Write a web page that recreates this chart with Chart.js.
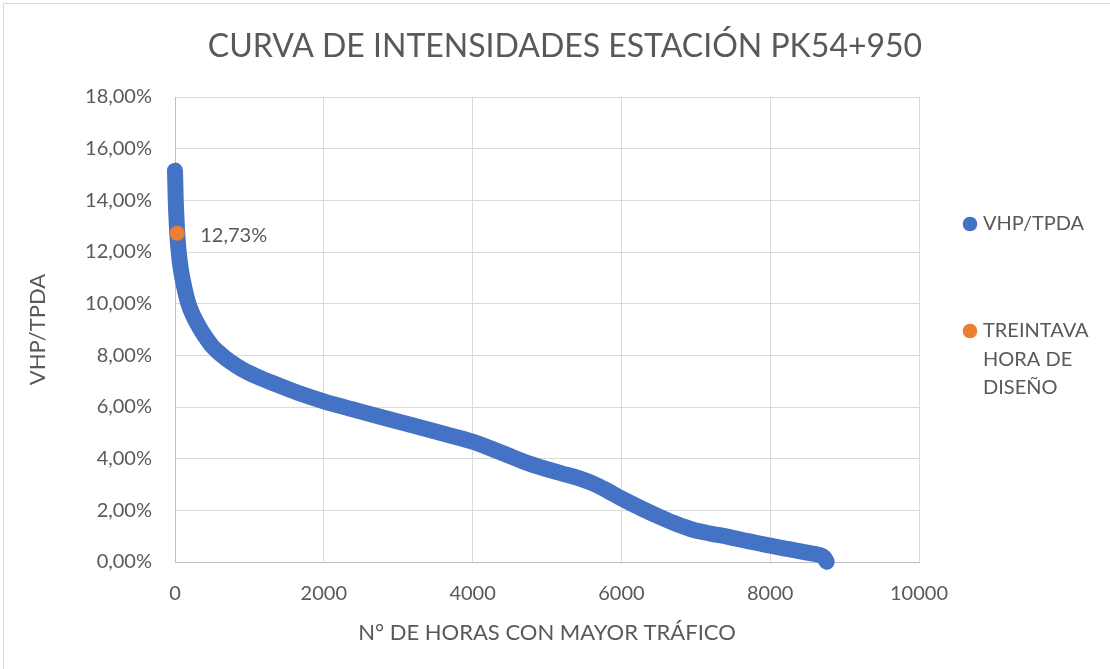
<html>
    <head>
        <meta http-equiv="content-type" content="text/html; charset=UTF-8">
        <script src="https://cdn.jsdelivr.net/npm/chart.js"></script>
        <title>Curva de intensidades PK54+950</title>
        <style>
            body { margin: 0; background: #fff; }
        </style>
    </head>
    <body>
        <div style="position: relative; width: 1110px; height: 669px">
            <canvas id="curva"></canvas>
        </div>

        <script>
            // datos (horas ordenadas, VHP/TPDA en %)
            const horas = [0, 5, 10, 20, 30, 50, 80, 120, 180, 250, 320, 400, 510, 620, 740, 900,
                           1100, 1411, 1680, 2000, 2400, 2755, 3100, 3427, 3700, 4000, 4400, 4772,
                           5175, 5444, 5618, 5800, 6000, 6250, 6519, 6750, 6962, 7200, 7419, 7700,
                           8000, 8250, 8495, 8650, 8720, 8760];
            const vhpTpda = [15.15, 14.6, 14.0, 13.3, 12.73, 12.0, 11.3, 10.7, 10.0, 9.5, 9.12, 8.75, 8.32, 8.03, 7.76, 7.46,
                             7.18, 6.82, 6.52, 6.22, 5.9, 5.62, 5.36, 5.11, 4.9, 4.66, 4.22, 3.8,
                             3.45, 3.23, 3.04, 2.78, 2.46, 2.1, 1.74, 1.46, 1.25, 1.1, 0.98, 0.81,
                             0.63, 0.5, 0.36, 0.28, 0.19, 0.01];
            const horaDiseno = [30];
            const valorDiseno = [12.73];
            const series = ['VHP/TPDA', 'TREINTAVA HORA DE DISEÑO'];
            const xTicks = [0, 2000, 4000, 6000, 8000, 10000];
            const yTicks = [0, 2, 4, 6, 8, 10, 12, 14, 16, 18];

            const titulo = 'CURVA DE INTENSIDADES ESTACIÓN PK54+950';
            const tituloX = 'N° DE HORAS CON MAYOR TRÁFICO';
            const tituloY = 'VHP/TPDA';

            const gris = '#595959';
            const azul = '#4472C4';
            const naranja = '#ED7D31';
            const fuente = 'Lato, Carlito, "Liberation Sans", sans-serif';

            const pct = (v) => v.toFixed(2).replace('.', ',') + '%';

            function wrap(ctx, text, maxW) {
                const words = text.split(' ');
                const lines = [];
                let cur = '';
                words.forEach((w) => {
                    const t = cur ? cur + ' ' + w : w;
                    if (cur && ctx.measureText(t).width > maxW) {
                        lines.push(cur);
                        cur = w;
                    } else {
                        cur = t;
                    }
                });
                lines.push(cur);
                return lines;
            }

            // titulo, leyenda, etiqueta y marco dibujados a mano
            const extras = {
                id: 'extras',
                afterDraw(chart) {
                    const ctx = chart.ctx;
                    ctx.save();

                    ctx.strokeStyle = '#D9D9D9';
                    ctx.lineWidth = 1;
                    ctx.beginPath();
                    ctx.moveTo(3.5, 669);
                    ctx.lineTo(3.5, 3.5);
                    ctx.lineTo(1110, 3.5);
                    ctx.stroke();

                    ctx.fillStyle = gris;
                    ctx.textAlign = 'center';
                    ctx.textBaseline = 'middle';
                    ctx.font = '32px ' + fuente;
                    ctx.fillText(titulo, 565, 47);

                    // leyenda
                    ctx.font = '20px ' + fuente;
                    ctx.textAlign = 'left';
                    const legendY = [224, 331];
                    chart.data.datasets.forEach((ds, i) => {
                        ctx.fillStyle = ds.backgroundColor;
                        ctx.beginPath();
                        ctx.arc(970, legendY[i], 7.3, 0, Math.PI * 2);
                        ctx.fill();
                        ctx.fillStyle = gris;
                        wrap(ctx, ds.label, 115).forEach((line, j) => {
                            ctx.fillText(line, 983, legendY[i] + j * 28.5);
                        });
                    });

                    // etiqueta del punto de diseño
                    const pt = chart.getDatasetMeta(1).data[0];
                    ctx.font = '20px ' + fuente;
                    ctx.fillText(pct(valorDiseno[0]), pt.x + 23, pt.y + 2);

                    ctx.restore();
                }
            };

            var ctx = document.getElementById('curva');

            var chart = new Chart(ctx, {
                type: 'scatter',
                data: {
                    datasets: [{
                        label: series[0],
                        data: horas.map((h, i) => ({x: h, y: vhpTpda[i]})),
                        showLine: true,
                        borderColor: azul,
                        backgroundColor: azul,
                        borderWidth: 16,
                        borderCapStyle: 'round',
                        borderJoinStyle: 'round',
                        cubicInterpolationMode: 'monotone',
                        pointRadius: 0,
                        clip: false,
                        order: 2
                    }, {
                        label: series[1],
                        data: horaDiseno.map((h, i) => ({x: h, y: valorDiseno[i]})),
                        backgroundColor: naranja,
                        borderColor: naranja,
                        pointRadius: 7.5,
                        borderWidth: 0,
                        clip: false,
                        order: 1
                    }]
                },
                options: {
                    animation: false,
                    responsive: true,
                    maintainAspectRatio: false,
                    layout: { padding: { top: 97, right: 191, left: 0, bottom: 0 } },
                    plugins: {
                        legend: { display: false },
                        tooltip: { enabled: false }
                    },
                    scales: {
                        x: {
                            type: 'linear',
                            min: 0,
                            max: 10000,
                            afterBuildTicks: (s) => { s.ticks = xTicks.map((v) => ({value: v})); },
                            afterFit: (s) => { s.height = 107; },
                            grid: { color: '#D9D9D9', drawTicks: false },
                            border: { color: '#BFBFBF' },
                            ticks: {
                                color: gris,
                                padding: 20,
                                font: { family: fuente, size: 20 },
                                callback: (v) => String(v)
                            },
                            title: {
                                display: true,
                                text: tituloX,
                                color: gris,
                                font: { family: fuente, size: 22 },
                                padding: { top: 0, bottom: 23 }
                            }
                        },
                        y: {
                            type: 'linear',
                            min: 0,
                            max: 18,
                            afterBuildTicks: (s) => { s.ticks = yTicks.map((v) => ({value: v})); },
                            afterFit: (s) => { s.width = 175; },
                            grid: { color: '#D9D9D9', drawTicks: false },
                            border: { color: '#BFBFBF' },
                            ticks: {
                                color: gris,
                                padding: 23,
                                font: { family: fuente, size: 20 },
                                callback: (v) => pct(v)
                            },
                            title: {
                                display: true,
                                text: tituloY,
                                color: gris,
                                font: { family: fuente, size: 22 },
                                padding: { top: 25, bottom: 0 }
                            }
                        }
                    }
                },
                plugins: [extras]
            });
        </script>
    </body>
</html>
